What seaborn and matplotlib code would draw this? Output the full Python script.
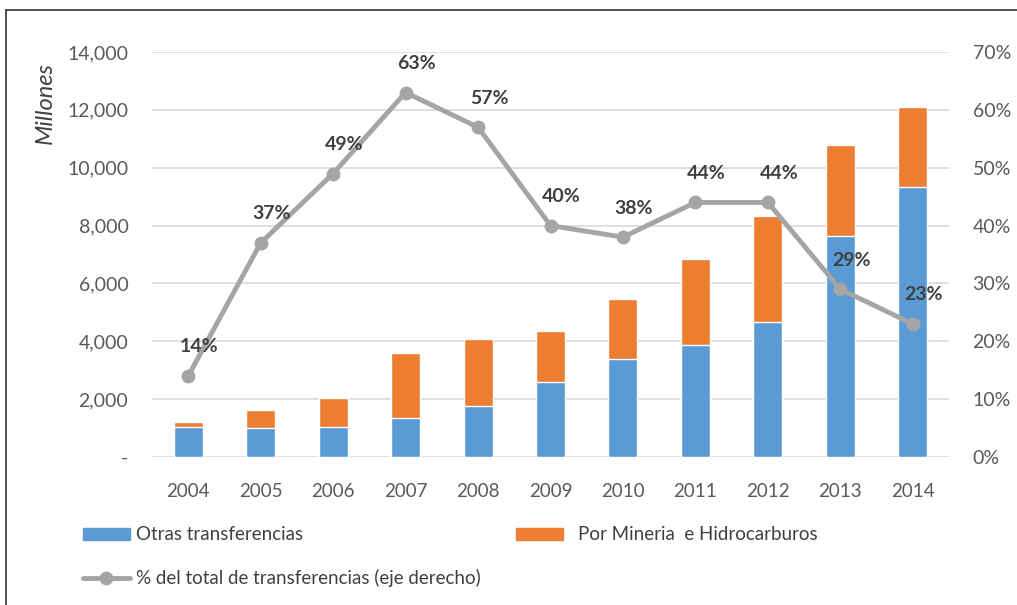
import numpy as np
import pandas as pd
import matplotlib
matplotlib.use("Agg")
import matplotlib.pyplot as plt
import seaborn as sns
from matplotlib.lines import Line2D
from matplotlib.patches import Patch
from matplotlib.ticker import FuncFormatter

years = ["2004", "2005", "2006", "2007", "2008", "2009", "2010", "2011", "2012", "2013", "2014"]
otras = [1050, 1010, 1050, 1340, 1760, 2580, 3380, 3860, 4655, 7650, 9345]
mineria = [170, 600, 1000, 2245, 2310, 1790, 2090, 2985, 3675, 3125, 2742]
pct = [14, 37, 49, 63, 57, 40, 38, 44, 44, 29, 23]
pct_labels = ["14%", "37%", "49%", "63%", "57%", "40%", "38%", "44%", "44%", "29%", "23%"]

BLUE = "#5B9BD5"
ORANGE = "#ED7D31"
GREY = "#A5A5A5"
TXT = "#595959"

sns.set_theme(style="white")
plt.rcParams["font.family"] = ["Lato", "DejaVu Sans"]

df = pd.DataFrame({"year": years, "otras": otras, "mineria": mineria})
df["total"] = df["otras"] + df["mineria"]

fig = plt.figure(figsize=(10.17, 6.05), dpi=100)
ax = fig.add_axes([152 / 1017, 1 - 457 / 605, (949 - 152) / 1017, (457 - 52) / 605])

sns.barplot(data=df, x="year", y="total", color=ORANGE, width=0.4, saturation=1, ax=ax)
sns.barplot(data=df, x="year", y="otras", color=BLUE, width=0.4, saturation=1, ax=ax)

ax.set_ylim(0, 14000)
ax.set_yticks(np.arange(0, 14001, 2000))
ax.yaxis.set_major_formatter(FuncFormatter(lambda v, p: "-" if v == 0 else f"{int(v):,}"))
ax.set_xlabel("")
ax.set_ylabel("")
ax.grid(axis="y", color="#D9D9D9", linewidth=1.2)
ax.set_axisbelow(True)
for s in ax.spines.values():
    s.set_visible(False)
ax.tick_params(axis="both", length=0, labelsize=14, labelcolor=TXT)
ax.tick_params(axis="y", pad=17)
ax.tick_params(axis="x", pad=19, labelsize=13.5)
ax.set_xlim(-0.5, len(years) - 0.5)

ax2 = ax.twinx()
xpos = np.arange(len(years))
sns.lineplot(x=xpos, y=pct, ax=ax2, color=GREY, linewidth=3.5, marker="o",
             markersize=10, markeredgewidth=0, legend=False)
ax2.set_ylim(0, 70)
ax2.set_yticks(np.arange(0, 71, 10))
ax2.yaxis.set_major_formatter(FuncFormatter(lambda v, p: f"{int(v)}%"))
ax2.set_ylabel("")
for s in ax2.spines.values():
    s.set_visible(False)
ax2.tick_params(axis="y", length=0, labelsize=14, labelcolor=TXT, pad=17)
ax2.grid(False)
ax2.set_xlim(-0.5, len(years) - 0.5)

for x, y, lab in zip(xpos, pct, pct_labels):
    ax2.annotate(lab, (x, y), xytext=(11, 29), textcoords="offset pixels",
                 ha="center", va="center", fontsize=14, fontweight="bold", color="#404040")

fig.text(45 / 1017, 1 - 103 / 605, "Millones", rotation=90, ha="center", va="center",
         fontsize=17, style="italic", color="#404040")

leg_kw = dict(frameon=False, fontsize=13.5, handlelength=2.5, handleheight=0.6,
              labelcolor="#404040", borderaxespad=0, borderpad=0)
fig.legend(handles=[Patch(color=BLUE, label="Otras transferencias")],
           loc="center left", bbox_to_anchor=(83 / 1017, 1 - 535 / 605), handletextpad=0.3, **leg_kw)
fig.legend(handles=[Patch(color=ORANGE, label="Por Mineria  e Hidrocarburos")],
           loc="center left", bbox_to_anchor=(516 / 1017, 1 - 535 / 605), handletextpad=0.8, **leg_kw)
fig.legend(handles=[Line2D([], [], color=GREY, linewidth=3.5, marker="o", markersize=10,
                           markeredgewidth=0, label="% del total de transferencias (eje derecho)")],
           loc="center left", bbox_to_anchor=(83 / 1017, 1 - 578 / 605), handletextpad=0.3, **leg_kw)

fig.add_artist(Line2D([6 / 1017, 6 / 1017], [0, 1 - 10 / 605], color="#333333", linewidth=1.2,
                      transform=fig.transFigure))
fig.add_artist(Line2D([6 / 1017, 1], [1 - 10 / 605, 1 - 10 / 605], color="#333333", linewidth=1.2,
                      transform=fig.transFigure))

fig.savefig("out.png", dpi=100)
